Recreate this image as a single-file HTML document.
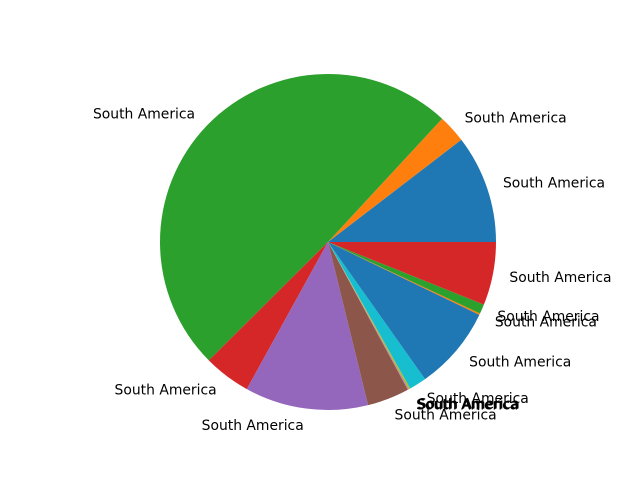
<!DOCTYPE html>
<html><head><meta charset="utf-8"><style>
body{margin:0;background:#fff}
svg{display:block}
text{font-family:"DejaVu Sans","Liberation Sans",sans-serif;font-size:13.9px;fill:#000}
</style></head><body>
<svg id="chart" width="640" height="480" viewBox="0 0 640 480"></svg>
<script>
const labels = ["South America","South America","South America","South America","South America","South America","South America","South America","South America","South America","South America","South America","South America","South America"];
const values = [37.5,9.7,177.6,16.3,42.7,14.6,0.2,0.2,0.5,6.0,29.0,0.5,3.3,21.9];
const colors = ["#1f77b4","#ff7f0e","#2ca02c","#d62728","#9467bd","#8c564b","#e377c2","#7f7f7f","#bcbd22","#17becf"];
const svg = document.getElementById('chart');
const NS = 'http://www.w3.org/2000/svg';
const cx = 328, cy = 242, r = 168;
const total = values.reduce((a,b)=>a+b,0);
let a0 = 0;
values.forEach((v,i)=>{
  const a1 = a0 + v/total*2*Math.PI;
  const x0 = cx + r*Math.cos(a0), y0 = cy - r*Math.sin(a0);
  const x1 = cx + r*Math.cos(a1), y1 = cy - r*Math.sin(a1);
  const large = (a1-a0) > Math.PI ? 1 : 0;
  const p = document.createElementNS(NS,'path');
  p.setAttribute('d', `M${cx},${cy} L${x0},${y0} A${r},${r} 0 ${large} 0 ${x1},${y1} Z`);
  p.setAttribute('fill', colors[i % colors.length]);
  
  
  svg.appendChild(p);
  const am = (a0+a1)/2;
  const lx = cx + 1.1*r*Math.cos(am), ly = cy - 1.1*r*Math.sin(am) + 1;
  const t = document.createElementNS(NS,'text');
  t.setAttribute('x', lx);
  t.setAttribute('y', ly);
  t.setAttribute('dominant-baseline', 'central');
  t.setAttribute('text-anchor', Math.cos(am) >= 0 ? 'start' : 'end');
  t.textContent = labels[i];
  
  
  svg.appendChild(t);
  a0 = a1;
});
</script>
</body></html>
